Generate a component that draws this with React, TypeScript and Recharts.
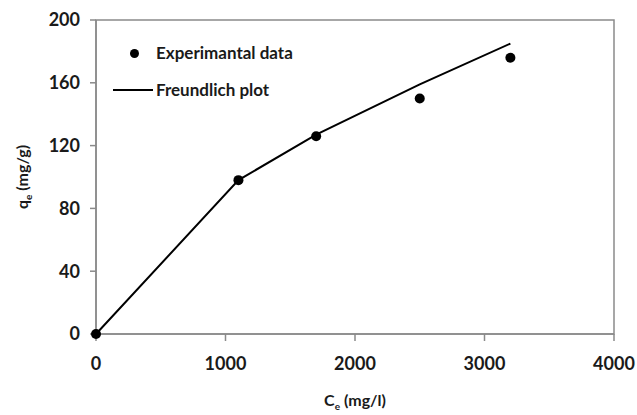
import * as R from 'recharts';
import { ComposedChart, Line, Scatter, XAxis, YAxis } from 'recharts';

const expCe = [0, 1100, 1700, 2500, 3200];
const expQe = [0, 98, 126, 150, 176];
const fitCe = [0, 1100, 1700, 2500, 3200];
const fitQe = [0, 98, 127, 159, 185];
const xTicks = [0, 1000, 2000, 3000, 4000];
const yTicks = [0, 40, 80, 120, 160, 200];

const expData = expCe.map((x, i) => ({ x, y: expQe[i] }));
const fitData = fitCe.map((x, i) => ({ x, y: fitQe[i] }));

const font = 'Lato, "Open Sans", sans-serif';
const axisColor = '#8a8a8a';
const tickStyle = { fill: '#1a1a1a', fontSize: 18, fontWeight: 700, fontFamily: font };

const usePlot: any = (R as any).usePlotArea || (R as any).useOffset || (() => null);

// plot frame drawn from the chart's own plot area
function Frame() {
    const p = usePlot();
    if (!p) return null;
    const x = p.x ?? p.left;
    const y = p.y ?? p.top;
    return <rect x={x} y={y} width={p.width} height={p.height} fill="none" stroke={axisColor} strokeWidth={1.5} />;
}

function LegendBox() {
    return (
        <div style={{ position: 'absolute', left: 110, top: 43, fontFamily: font, fontWeight: 700, fontSize: 17, color: '#1a1a1a', lineHeight: '20px' }}>
            <div style={{ display: 'flex', alignItems: 'center', height: 20 }}>
                <span style={{ width: 46, display: 'flex', justifyContent: 'center' }}>
                    <span style={{ width: 9, height: 9, borderRadius: 5, background: '#000', marginLeft: 3 }} />
                </span>
                <span>Experimantal data</span>
            </div>
            <div style={{ display: 'flex', alignItems: 'center', height: 20, marginTop: 17 }}>
                <span style={{ width: 46, display: 'flex', justifyContent: 'center' }}>
                    <span style={{ width: 40, height: 2, background: '#000' }} />
                </span>
                <span>Freundlich plot</span>
            </div>
        </div>
    );
}

export default function App() {
    return (
        <div style={{ position: 'absolute', left: 0, top: 0, width: 637, height: 415, background: '#fff' }}>
            <ComposedChart width={637} height={415} data={fitData} margin={{ top: 20, right: 23, left: 0, bottom: 0 }}>
                <Frame />
                <XAxis
                    type="number"
                    dataKey="x"
                    domain={[0, 4000]}
                    ticks={xTicks}
                    height={81}
                    axisLine={{ stroke: axisColor, strokeWidth: 1.5 }}
                    tickLine={{ stroke: axisColor, strokeWidth: 1.5 }}
                    tickSize={7}
                    tickMargin={16}
                    tick={tickStyle}
                    label={({ viewBox }: any) => (
                        <text x={viewBox.x + viewBox.width / 2} y={406} textAnchor="middle" fontFamily={font} fontWeight={700} fontSize={16} fill="#1a1a1a">
                            C<tspan fontSize={10} dy={4}>e</tspan><tspan dy={-4}> (mg/l)</tspan>
                        </text>
                    )}
                />
                <YAxis
                    type="number"
                    dataKey="y"
                    domain={[0, 200]}
                    ticks={yTicks}
                    width={96}
                    axisLine={{ stroke: axisColor, strokeWidth: 1.5 }}
                    tickLine={{ stroke: axisColor, strokeWidth: 1.5 }}
                    tickSize={6}
                    tickMargin={10}
                    tick={tickStyle}
                    label={({ viewBox }: any) => {
                        const cy = viewBox.y + viewBox.height / 2;
                        return (
                            <text x={28} y={cy} transform={`rotate(-90 28 ${cy})`} textAnchor="middle" fontFamily={font} fontWeight={700} fontSize={16} fill="#1a1a1a">
                                q<tspan fontSize={10} dy={4}>e</tspan><tspan dy={-4}> (mg/g)</tspan>
                            </text>
                        );
                    }}
                />
                <Line
                    dataKey="y"
                    type="linear"
                    stroke="#000"
                    strokeWidth={2}
                    dot={false}
                    activeDot={false}
                    isAnimationActive={false}
                />
                <Scatter data={expData} dataKey="y" fill="#000" isAnimationActive={false}
                    shape={(p: any) => <circle cx={p.cx} cy={p.cy} r={5} fill="#000" />} />
            </ComposedChart>
            <LegendBox />
        </div>
    );
}
